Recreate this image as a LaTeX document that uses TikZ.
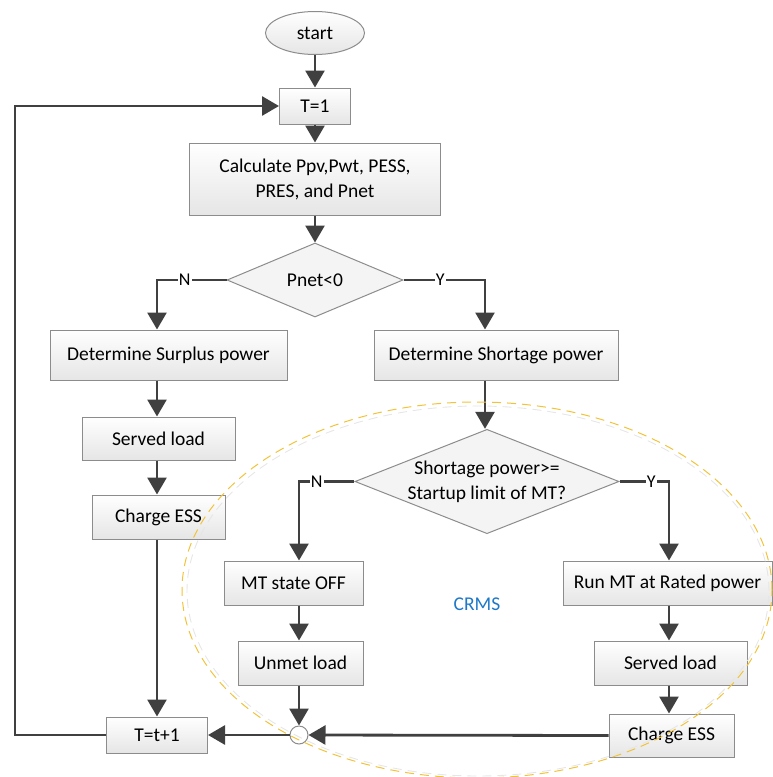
\documentclass[tikz,border=0pt]{standalone}
\usepackage{fontspec}
\setmainfont{Carlito}
\usetikzlibrary{shapes.geometric,arrows.meta,calc}
\definecolor{arrc}{HTML}{404040}
\definecolor{boxb}{HTML}{8C8C8C}
\definecolor{crmsc}{HTML}{1E78C8}
\definecolor{dashy}{HTML}{F2C33A}
\definecolor{ghost}{HTML}{E6E6E6}
\begin{document}
\begin{tikzpicture}[x=1pt,y=-1pt,
  font=\fontsize{19.5}{25}\selectfont,
  box/.style={draw=boxb, line width=1pt, top color=white, bottom color=gray!20, inner sep=0pt, align=center},
  dec/.style={diamond, draw=boxb, line width=1pt, fill=gray!9, inner sep=0pt, align=center},
  arr/.style={draw=arrc, line width=2.8pt, line join=miter, -{Triangle[length=17pt,width=19pt]}},
  lab/.style={fill=white, inner sep=1pt, font=\fontsize{18}{20}\selectfont}]
\useasboundingbox (0,0) rectangle (773,777);

\coordinate (lc) at (157,0);
\coordinate (rc) at (485,0);
\coordinate (mc) at (299,0);
\coordinate (nc) at (669,0);
\coordinate (lp) at (15,0);

\node[ellipse, draw=boxb, line width=1pt, top color=white, bottom color=gray!20, minimum width=99pt, minimum height=43pt, inner sep=0pt] (start) at (315,33) {start};
\node[box, minimum width=71pt, minimum height=36pt] (t1) at (315,106) {T=1};
\node[box, minimum width=251pt, minimum height=72pt] (calc) at (315,179) {Calculate Ppv,Pwt, PESS,\\PRES, and Pnet};
\node[dec, minimum width=176pt, minimum height=74pt, aspect=2.38] (d1) at (315,280) {Pnet<0};
\node[box, minimum width=237pt, minimum height=50pt] (surplus) at (168.5,355) {Determine Surplus power};
\node[box, minimum width=244pt, minimum height=50pt] (shortage) at (496,355) {Determine Shortage power};
\node[box, minimum width=153pt, minimum height=43pt] (served1) at (158.5,438.5) {Served load};
\node[box, minimum width=133pt, minimum height=44pt] (charge1) at (158.5,517) {Charge ESS};
\node[dec, minimum width=256pt, minimum height=101pt, aspect=2.53] (d2) at (487,481.5) {Shortage power>=\\Startup limit of MT?};
\node[box, minimum width=139pt, minimum height=44pt] (mtoff) at (293.5,583) {MT state OFF};
\node[box, minimum width=209pt, minimum height=44pt] (runmt) at (667.5,583) {Run MT at Rated power};
\node[box, minimum width=125pt, minimum height=44pt] (unmet) at (300.5,663) {Unmet load};
\node[box, minimum width=153pt, minimum height=44pt] (served2) at (670.5,663) {Served load};
\node[box, minimum width=125pt, minimum height=43pt] (charge2) at (671.5,735.5) {Charge ESS};
\node[box, minimum width=101pt, minimum height=36pt] (tt1) at (157,735) {T=t+1};
\node[circle, draw=boxb, line width=1pt, fill=white, minimum size=18pt, inner sep=0pt] (junc) at (299,735) {};
\node[text=crmsc] (crms) at (477,604) {CRMS};

\draw[arr] (start) -- (t1);
\draw[arr] (t1) -- (calc);
\draw[arr] (calc) -- (d1);
\draw[arr] (d1.west) -| node[lab, pos=0.3]{N} (surplus.north -| lc);
\draw[arr] (d1.east) -| node[lab, pos=0.225]{Y} (shortage.north -| rc);
\draw[arr] (surplus.south -| lc) -- (served1.north -| lc);
\draw[arr] (served1.south -| lc) -- (charge1.north -| lc);
\draw[arr] (charge1.south -| lc) -- (tt1.north -| lc);
\draw[arr] (shortage.south -| rc) -- (d2.north -| rc);
\draw[arr] (d2.west) -| node[lab, pos=0.34]{N} (mtoff.north -| mc);
\draw[arr] (d2.east) -| node[lab, pos=0.32]{Y} (runmt.north -| nc);
\draw[arr] (mtoff.south -| mc) -- (unmet.north -| mc);
\draw[arr] (unmet.south -| mc) -- (junc.north);
\draw[arr] (runmt.south -| nc) -- (served2.north -| nc);
\draw[arr] (served2.south -| nc) -- (charge2.north -| nc);
\draw[arr] (charge2.west) -- (junc.east);
\draw[arr] (junc.west) -- (tt1.east);
\draw[arr] (tt1.west) -- (tt1.west -| lp) -- (lp |- t1.west) -- (t1.west);

\draw[ghost, line width=0.9pt, dash pattern=on 9pt off 6pt] (478,591) ellipse [x radius=291pt, y radius=185pt];
\draw[dashy, line width=1pt, dash pattern=on 9pt off 6pt] (477,590) ellipse [x radius=295pt, y radius=188pt];
\end{tikzpicture}
\end{document}
